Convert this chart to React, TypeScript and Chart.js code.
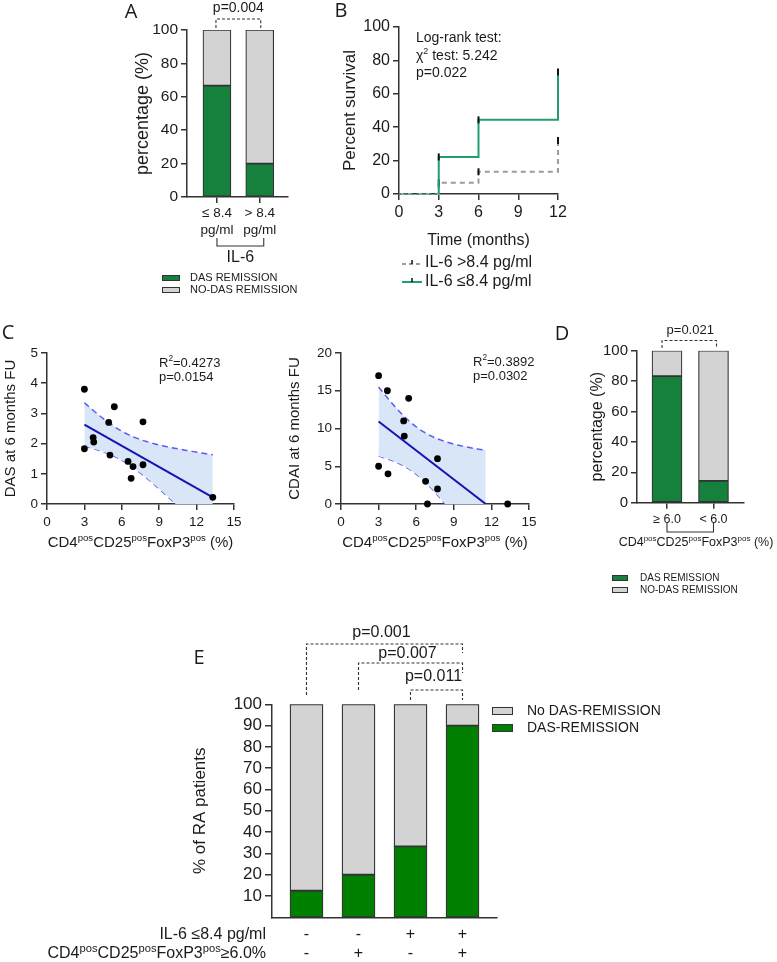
import React, { useEffect, useRef } from 'react';
import { Chart, registerables } from 'chart.js';

Chart.register(...registerables);

const FONT = '"Liberation Sans", Arial, Helvetica, sans-serif';
const LETTER_FONT = '"Open Sans", "Liberation Sans", sans-serif';
const TXT = '#1b1b1b';
const AX = '#333333';
const GREEN_AD = '#16803d';
const GREY = '#d3d3d3';
const GREEN_E = '#008000';
const GREEN_KM = '#1f9f6c';
const GREY_KM = '#9c9c9c';
const BLUE_LINE = '#1414b4';
const BLUE_DASH = '#5b5bf2';
const BAND = '#d9e6f7';

// ---------------- DATA ----------------
// Panel A
const A_CATEGORIES = [['≤ 8.4', 'pg/ml'], ['> 8.4', 'pg/ml']];
const A_DAS_REMISSION = [66.7, 20.0];
const A_NO_DAS_REMISSION = [33.3, 80.0];
const A_Y_TICKS = [0, 20, 40, 60, 80, 100];
const A_PVALUE = 'p=0.004';

// Panel B (Kaplan-Meier style cumulative curves)
const B_TIMES = [0, 3, 6, 12];
const B_IL6_LOW = [0, 22.2, 44.4, 73.0];
const B_IL6_HIGH = [0, 6.7, 13.3, 32.0];
const B_X_TICKS = [0, 3, 6, 9, 12];
const B_Y_TICKS = [0, 20, 40, 60, 80, 100];

// Panel C
const C_TREG_DAS = [3.0, 3.0, 3.7, 3.75, 5.4, 4.95, 5.05, 6.5, 6.9, 6.75, 7.7, 7.7, 13.3];
const C_DAS = [3.8, 1.83, 2.2, 2.05, 3.22, 2.7, 1.62, 1.41, 1.24, 0.85, 2.72, 1.3, 0.22];
const C_TREG_CDAI = [3.0, 3.7, 5.4, 5.0, 5.05, 7.7, 3.0, 3.75, 6.75, 7.7, 6.9, 13.3];
const C_CDAI = [17, 15, 14, 11, 9, 6, 5, 4, 3, 2, 0, 0];
const C_X_TICKS = [0, 3, 6, 9, 12, 15];
const C_DAS_Y_TICKS = [0, 1, 2, 3, 4, 5];
const C_CDAI_Y_TICKS = [0, 5, 10, 15, 20];

// Panel D
const D_CATEGORIES = ['≥ 6.0', '< 6.0'];
const D_DAS_REMISSION = [83.3, 14.3];
const D_NO_DAS_REMISSION = [16.7, 85.7];
const D_Y_TICKS = [0, 20, 40, 60, 80, 100];

// Panel E
const E_IL6 = ['-', '-', '+', '+'];
const E_TREG = ['-', '+', '-', '+'];
const E_DAS_REMISSION = [12.5, 20.0, 33.3, 90.0];
const E_NO_DAS_REMISSION = [87.5, 80.0, 66.7, 10.0];
const E_Y_TICKS = [10, 20, 30, 40, 50, 60, 70, 80, 90, 100];
const E_COMPARISONS = [
  { from: 0, to: 3, label: 'p=0.001' },
  { from: 1, to: 3, label: 'p=0.007' },
  { from: 2, to: 3, label: 'p=0.011' },
];
const E_BRACKET_STYLE = [
  { y: 644, left: 695, right: 653, text: 633 },
  { y: 663, left: 690, right: 673, text: 654 },
  { y: 690, left: 700, right: 700, text: 677 },
];

const T_CRIT: Record<number, number> = { 10: 2.228, 11: 2.201 };

// ---------------- HELPERS ----------------
type Part = { t: string; sup?: boolean };
const TREG_PARTS: Part[] = [
  { t: 'CD4' }, { t: 'pos', sup: true }, { t: 'CD25' }, { t: 'pos', sup: true }, { t: 'FoxP3' }, { t: 'pos', sup: true },
];

function rich(ctx: CanvasRenderingContext2D, parts: Part[], x: number, y: number, size: number, align: 'left' | 'center' | 'right', supRatio = 0.64) {
  const sup = size * supRatio;
  const ws = parts.map((p) => {
    ctx.font = `${p.sup ? sup : size}px ${FONT}`;
    return ctx.measureText(p.t).width;
  });
  const total = ws.reduce((a, b) => a + b, 0);
  let cx = align === 'left' ? x : align === 'center' ? x - total / 2 : x - total;
  ctx.fillStyle = TXT;
  ctx.textAlign = 'left';
  ctx.textBaseline = 'middle';
  parts.forEach((p, i) => {
    ctx.font = `${p.sup ? sup : size}px ${FONT}`;
    ctx.fillText(p.t, cx, p.sup ? y - size * 0.3 : y);
    cx += ws[i];
  });
}

function text(ctx: CanvasRenderingContext2D, s: string, x: number, y: number, size: number, align: CanvasTextAlign = 'center', font = FONT) {
  ctx.font = `${size}px ${font}`;
  ctx.fillStyle = TXT;
  ctx.textAlign = align;
  ctx.textBaseline = 'middle';
  ctx.fillText(s, x, y);
}

function bracket(ctx: CanvasRenderingContext2D, x1: number, x2: number, yH: number, yL: number, yR: number, dashed: boolean) {
  ctx.save();
  ctx.strokeStyle = AX;
  ctx.lineWidth = 1.1;
  ctx.setLineDash(dashed ? [3, 2] : []);
  ctx.beginPath();
  ctx.moveTo(x1, yL);
  ctx.lineTo(x1, yH);
  ctx.lineTo(x2, yH);
  ctx.lineTo(x2, yR);
  ctx.stroke();
  ctx.restore();
}

function box(ctx: CanvasRenderingContext2D, x: number, y: number, w: number, h: number, fill: string) {
  ctx.save();
  ctx.fillStyle = fill;
  ctx.fillRect(x, y, w, h);
  ctx.strokeStyle = AX;
  ctx.lineWidth = 1;
  ctx.strokeRect(x + 0.5, y + 0.5, w - 1, h - 1);
  ctx.restore();
}

type AxisOpt = {
  min: number; max: number; ticks: number[]; size: number; pad?: number; tickLen?: number; stacked?: boolean;
  callback?: (v: number) => any; title?: string; titleSize?: number; titlePad?: number; showTicks?: boolean; lineHeight?: number;
};

function axis(o: AxisOpt, fitKey: 'width' | 'height', fitVal: number) {
  const show = o.showTicks !== false;
  return {
    type: 'linear',
    min: o.min,
    max: o.max,
    offset: false,
    stacked: !!o.stacked,
    afterBuildTicks: (s: any) => { s.ticks = o.ticks.map((v) => ({ value: v })); },
    afterFit: (s: any) => { s[fitKey] = fitVal; },
    ticks: {
      display: show, autoSkip: false, maxRotation: 0, minRotation: 0, padding: o.pad ?? 3, color: TXT,
      font: { family: FONT, size: o.size, lineHeight: o.lineHeight ?? 1.2 },
      callback: o.callback ?? ((v: number) => String(v)),
    },
    grid: { offset: false, drawOnChartArea: false, drawTicks: show, tickLength: o.tickLen ?? 6, color: AX, lineWidth: 1.5 },
    border: { display: true, color: AX, width: 1.5 },
    title: o.title
      ? { display: true, text: o.title, color: TXT, font: { family: FONT, size: o.titleSize }, padding: { top: o.titlePad ?? 0, bottom: o.titlePad ?? 0 } }
      : { display: false },
  };
}

function base(padding: any) {
  return {
    responsive: false,
    animation: false,
    devicePixelRatio: 1,
    events: [],
    layout: { padding },
    plugins: { legend: { display: false }, tooltip: { enabled: false } },
  };
}

function abs(chart: any, L: number, T: number, fn: (ctx: CanvasRenderingContext2D, px: (v: number) => number) => void) {
  const ctx = chart.ctx as CanvasRenderingContext2D;
  ctx.save();
  ctx.translate(-L, -T);
  const px = (v: number) => chart.scales.x.getPixelForValue(v) + L;
  fn(ctx, px);
  ctx.restore();
}

function linFit(xs: number[], ys: number[]) {
  const n = xs.length;
  const mx = xs.reduce((a, b) => a + b, 0) / n;
  const my = ys.reduce((a, b) => a + b, 0) / n;
  let sxx = 0, sxy = 0;
  for (let i = 0; i < n; i++) { sxx += (xs[i] - mx) ** 2; sxy += (xs[i] - mx) * (ys[i] - my); }
  const b = sxy / sxx;
  const a = my - b * mx;
  let sse = 0;
  for (let i = 0; i < n; i++) sse += (ys[i] - a - b * xs[i]) ** 2;
  const s = Math.sqrt(sse / (n - 2));
  return { a, b, mx, sxx, s, n };
}

function regressionDatasets(xs: number[], ys: number[]) {
  const f = linFit(xs, ys);
  const x0 = Math.min(...xs);
  const xMax = Math.max(...xs);
  const xEnd = f.b < 0 ? Math.min(xMax, -f.a / f.b) : xMax;
  const t = T_CRIT[f.n - 2] ?? 2.2;
  const steps = 60;
  const upper: any[] = [], lower: any[] = [];
  for (let k = 0; k <= steps; k++) {
    const x = x0 + ((xEnd - x0) * k) / steps;
    const yhat = f.a + f.b * x;
    const se = f.s * Math.sqrt(1 / f.n + (x - f.mx) ** 2 / f.sxx);
    upper.push({ x, y: yhat + t * se });
    lower.push({ x, y: yhat - t * se });
  }
  return [
    { data: xs.map((x, i) => ({ x, y: ys[i] })), showLine: false, pointRadius: 3.4, pointBackgroundColor: '#000', pointBorderColor: '#000', pointBorderWidth: 0, clip: false },
    { data: [{ x: x0, y: f.a + f.b * x0 }, { x: xEnd, y: f.a + f.b * xEnd }], borderColor: BLUE_LINE, borderWidth: 2, pointRadius: 0 },
    { data: upper, borderColor: BLUE_DASH, borderWidth: 1.5, borderDash: [6, 4], pointRadius: 0, fill: '+1', backgroundColor: BAND },
    { data: lower, borderColor: BLUE_DASH, borderWidth: 1.5, borderDash: [6, 4], pointRadius: 0, fill: false },
  ];
}

function kmSteps(times: number[], surv: number[]) {
  const pts = [{ x: times[0], y: surv[0] }];
  for (let i = 1; i < times.length; i++) {
    pts.push({ x: times[i], y: surv[i - 1] });
    pts.push({ x: times[i], y: surv[i] });
  }
  return pts;
}

// ---------------- PANELS ----------------
function makeA() {
  const L = 120, T = 0;
  return {
    type: 'bar',
    data: {
      datasets: [
        { label: 'DAS REMISSION', data: A_DAS_REMISSION.map((v, i) => ({ x: i, y: v })), backgroundColor: GREEN_AD, borderColor: AX, borderWidth: 1.2, borderSkipped: false, barThickness: 28 },
        { label: 'NO-DAS REMISSION', data: A_NO_DAS_REMISSION.map((v, i) => ({ x: i, y: v })), backgroundColor: GREY, borderColor: AX, borderWidth: 1.2, borderSkipped: false, barThickness: 28 },
      ],
    },
    options: {
      ...base({ left: 0, top: 30, right: 22, bottom: 0 }),
      scales: {
        x: axis({ min: -0.7, max: 1.66, ticks: [0, 1], size: 13.5, pad: 2, stacked: true, lineHeight: 1.25, callback: (v) => A_CATEGORIES[v] }, 'height', 103),
        y: axis({ min: 0, max: 100, ticks: A_Y_TICKS, size: 15.5, stacked: true, title: 'percentage (%)', titleSize: 18, titlePad: 12 }, 'width', 67),
      },
    },
    plugins: [{
      id: 'panelA',
      afterDraw(chart: any) {
        abs(chart, L, T, (ctx, px) => {
          text(ctx, 'A', 131, 12, 20, 'center', LETTER_FONT);
          const mid = (px(0) + px(1)) / 2;
          text(ctx, A_PVALUE, mid, 8, 14);
          bracket(ctx, px(0) - 1, px(1) + 1, 19, 28, 28, true);
          bracket(ctx, px(0), px(1) + 4, 246, 238, 238, false);
          text(ctx, 'IL-6', mid + 2, 258, 16);
          box(ctx, 162, 275, 18, 6, GREEN_AD);
          box(ctx, 162, 287, 18, 6, GREY);
          text(ctx, 'DAS REMISSION', 190, 278, 11, 'left');
          text(ctx, 'NO-DAS REMISSION', 190, 290, 11, 'left');
        });
      },
    }],
  };
}

function makeB() {
  const L = 330, T = 0;
  const censor = (ctx: any) => (ctx.dataIndex >= 2 && ctx.dataIndex % 2 === 0 ? 3.5 : 0);
  return {
    type: 'line',
    data: {
      datasets: [
        {
          label: 'IL-6 ≤8.4 pg/ml', data: kmSteps(B_TIMES, B_IL6_LOW), borderColor: GREEN_KM, borderWidth: 2, clip: false,
          segment: { borderDash: (c: any) => (c.p0DataIndex === 0 ? [2, 4] : undefined) },
          pointRadius: censor, pointStyle: 'line', rotation: 90, pointBorderColor: '#111', pointBorderWidth: 2, pointBackgroundColor: '#111',
        },
        {
          label: 'IL-6 >8.4 pg/ml', data: kmSteps(B_TIMES, B_IL6_HIGH), borderColor: GREY_KM, borderWidth: 2, borderDash: [5, 4], clip: false,
          pointRadius: censor, pointStyle: 'line', rotation: 90, pointBorderColor: '#111', pointBorderWidth: 2, pointBackgroundColor: '#111',
        },
      ],
    },
    options: {
      ...base({ left: 0, top: 27, right: 22, bottom: 0 }),
      scales: {
        x: axis({ min: 0, max: 12, ticks: B_X_TICKS, size: 16, pad: 3.4, title: 'Time (months)', titleSize: 16, titlePad: 50 }, 'height', 106),
        y: axis({ min: 0, max: 100, ticks: B_Y_TICKS, size: 16, title: 'Percent survival', titleSize: 17, titlePad: 10 }, 'width', 69),
      },
    },
    plugins: [{
      id: 'panelB',
      afterDraw(chart: any) {
        abs(chart, L, T, (ctx) => {
          text(ctx, 'B', 341, 11, 20, 'center', LETTER_FONT);
          text(ctx, 'Log-rank test:', 416, 38, 14, 'left');
          rich(ctx, [{ t: 'χ' }, { t: '2', sup: true }, { t: ' test: 5.242' }], 416, 56, 14, 'left');
          text(ctx, 'p=0.022', 416, 73, 14, 'left');
          // legend
          ctx.save();
          ctx.lineWidth = 2;
          ctx.strokeStyle = GREY_KM;
          ctx.setLineDash([4, 3]);
          ctx.beginPath(); ctx.moveTo(402, 264); ctx.lineTo(422, 264); ctx.stroke();
          ctx.setLineDash([]);
          ctx.strokeStyle = GREEN_KM;
          ctx.beginPath(); ctx.moveTo(402, 282); ctx.lineTo(422, 282); ctx.stroke();
          ctx.strokeStyle = '#111';
          ctx.lineWidth = 1.5;
          ctx.beginPath(); ctx.moveTo(412, 260); ctx.lineTo(412, 264); ctx.moveTo(412, 278); ctx.lineTo(412, 282); ctx.stroke();
          ctx.restore();
          text(ctx, 'IL-6 >8.4 pg/ml', 425, 263, 16, 'left');
          text(ctx, 'IL-6 ≤8.4 pg/ml', 425, 282, 16, 'left');
        });
      },
    }],
  };
}

function makeC(which: 'das' | 'cdai') {
  const isDas = which === 'das';
  const L = isDas ? 0 : 270, T = 320;
  const xs = isDas ? C_TREG_DAS : C_TREG_CDAI;
  const ys = isDas ? C_DAS : C_CDAI;
  const yw = isDas ? 47 : 71;
  const rightPad = isDas ? 36 : 21;
  return {
    type: 'line',
    data: { datasets: regressionDatasets(xs, ys) },
    options: {
      ...base({ left: 0, top: 33, right: rightPad, bottom: 0 }),
      scales: {
        x: axis({ min: 0, max: 15, ticks: C_X_TICKS, size: 13.5, pad: 4 }, 'height', 66),
        y: axis({
          min: 0, max: isDas ? 5 : 20, ticks: isDas ? C_DAS_Y_TICKS : C_CDAI_Y_TICKS, size: 13.5,
          title: isDas ? 'DAS at 6 months FU' : 'CDAI at 6 months FU', titleSize: 15, titlePad: isDas ? 2 : 16,
        }, 'width', yw),
      },
    },
    plugins: [{
      id: 'panelC' + which,
      afterDraw(chart: any) {
        abs(chart, L, T, (ctx) => {
          if (isDas) text(ctx, 'C', 8, 333, 20, 'center', LETTER_FONT);
          const tx = isDas ? 159 : 473;
          rich(ctx, [{ t: 'R' }, { t: '2', sup: true }, { t: isDas ? '=0.4273' : '=0.3892' }], tx, isDas ? 363 : 362, 13, 'left');
          text(ctx, isDas ? 'p=0.0154' : 'p=0.0302', tx, isDas ? 377 : 376, 13, 'left');
          const ca = chart.chartArea;
          rich(ctx, [...TREG_PARTS, { t: ' (%)' }], (ca.left + ca.right) / 2 + L, 543, 15, 'center');
        });
      },
    }],
  };
}

function makeD() {
  const L = 550, T = 320;
  return {
    type: 'bar',
    data: {
      datasets: [
        { label: 'DAS REMISSION', data: D_DAS_REMISSION.map((v, i) => ({ x: i, y: v })), backgroundColor: GREEN_AD, borderColor: AX, borderWidth: 1.2, borderSkipped: false, barThickness: 30 },
        { label: 'NO-DAS REMISSION', data: D_NO_DAS_REMISSION.map((v, i) => ({ x: i, y: v })), backgroundColor: GREY, borderColor: AX, borderWidth: 1.2, borderSkipped: false, barThickness: 30 },
      ],
    },
    options: {
      ...base({ left: 0, top: 30.7, right: 33, bottom: 0 }),
      scales: {
        x: axis({ min: -0.645, max: 1.656, ticks: [0, 1], size: 12.5, pad: 3, stacked: true, callback: (v) => D_CATEGORIES[v] }, 'height', 97.3),
        y: axis({ min: 0, max: 100, ticks: D_Y_TICKS, size: 15, stacked: true, title: 'percentage (%)', titleSize: 16, titlePad: 38 }, 'width', 87),
      },
    },
    plugins: [{
      id: 'panelD',
      afterDraw(chart: any) {
        abs(chart, L, T, (ctx, px) => {
          text(ctx, 'D', 562, 334, 20, 'center', LETTER_FONT);
          const mid = (px(0) + px(1)) / 2;
          text(ctx, 'p=0.021', mid, 330, 13);
          bracket(ctx, px(0) - 5, px(1) + 3, 340.5, 348, 348, true);
          bracket(ctx, px(0), px(1), 532, 523, 523, false);
          rich(ctx, [...TREG_PARTS, { t: ' (%)' }], 696, 543, 12.5, 'center');
          box(ctx, 612, 575, 16, 6, GREEN_AD);
          box(ctx, 612, 587, 16, 6, GREY);
          text(ctx, 'DAS REMISSION', 640, 578, 10, 'left');
          text(ctx, 'NO-DAS REMISSION', 640, 590, 10, 'left');
        });
      },
    }],
  };
}

function makeE() {
  const L = 0, T = 600;
  return {
    type: 'bar',
    data: {
      datasets: [
        { label: 'DAS-REMISSION', data: E_DAS_REMISSION.map((v, i) => ({ x: i, y: v })), backgroundColor: GREEN_E, borderColor: AX, borderWidth: 1.3, borderSkipped: false, barThickness: 33 },
        { label: 'No DAS-REMISSION', data: E_NO_DAS_REMISSION.map((v, i) => ({ x: i, y: v })), backgroundColor: GREY, borderColor: AX, borderWidth: 1.3, borderSkipped: false, barThickness: 33 },
      ],
    },
    options: {
      ...base({ left: 0, top: 104.3, right: 280, bottom: 0 }),
      scales: {
        x: axis({ min: -0.663, max: 3.663, ticks: [], size: 12, stacked: true, showTicks: false }, 'height', 44.7),
        y: axis({ min: 0, max: 100, ticks: E_Y_TICKS, size: 17, tickLen: 7, stacked: true, title: '% of RA patients', titleSize: 17, titlePad: 190 }, 'width', 272),
      },
    },
    plugins: [{
      id: 'panelE',
      afterDraw(chart: any) {
        abs(chart, L, T, (ctx, px) => {
          text(ctx, 'E', 199, 658, 20, 'center', LETTER_FONT);
          E_COMPARISONS.forEach((c, i) => {
            const st = E_BRACKET_STYLE[i];
            const x1 = px(c.from), x2 = px(c.to);
            bracket(ctx, x1, x2, st.y, st.left, st.right, true);
            text(ctx, c.label, (x1 + x2) / 2 - 3, st.text, 16);
          });
          box(ctx, 492, 707, 21, 8, GREY);
          box(ctx, 492, 724, 21, 8, GREEN_E);
          text(ctx, 'No DAS-REMISSION', 527, 711, 14, 'left');
          text(ctx, 'DAS-REMISSION', 527, 728, 14, 'left');
          text(ctx, 'IL-6 ≤8.4 pg/ml', 266, 935, 16, 'right');
          rich(ctx, [...TREG_PARTS, { t: '≥6.0%' }], 266, 954, 16, 'right', 0.7);
          E_IL6.forEach((s, i) => text(ctx, s, px(i), 935, 16));
          E_TREG.forEach((s, i) => text(ctx, s, px(i), 954, 16));
        });
      },
    }],
  };
}

function ChartPanel({ left, top, width, height, make }: { left: number; top: number; width: number; height: number; make: () => any }) {
  const ref = useRef<HTMLCanvasElement>(null);
  useEffect(() => {
    const chart = new Chart(ref.current as HTMLCanvasElement, make());
    return () => chart.destroy();
  }, []);
  return <canvas ref={ref} width={width} height={height} style={{ position: 'absolute', left, top, width, height }} />;
}

export default function App() {
  return (
    <div style={{ position: 'absolute', left: 0, top: 0, width: 777, height: 962, background: '#fff', overflow: 'hidden' }}>
      <ChartPanel left={120} top={0} width={190} height={300} make={makeA} />
      <ChartPanel left={330} top={0} width={250} height={300} make={makeB} />
      <ChartPanel left={0} top={320} width={270} height={250} make={() => makeC('das')} />
      <ChartPanel left={270} top={320} width={280} height={250} make={() => makeC('cdai')} />
      <ChartPanel left={550} top={320} width={227} height={280} make={makeD} />
      <ChartPanel left={0} top={600} width={777} height={362} make={makeE} />
    </div>
  );
}
